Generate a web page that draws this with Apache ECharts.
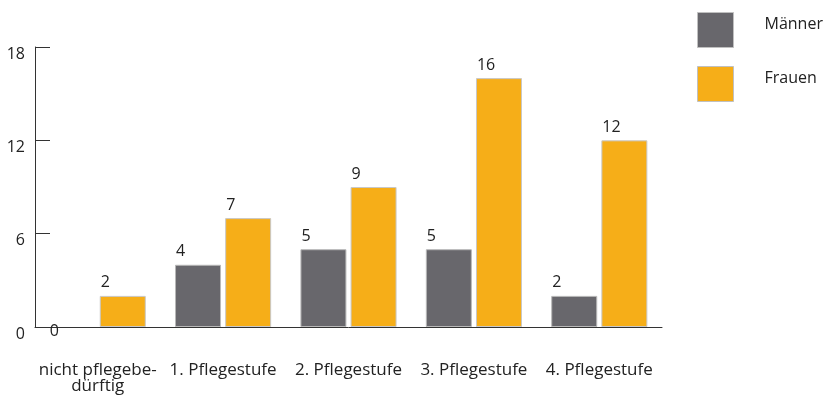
<!DOCTYPE html>
<html>
<head>
<meta charset="utf-8">
<script src="https://cdn.jsdelivr.net/npm/echarts@6/dist/echarts.min.js"></script>
<style>
  html, body { margin: 0; padding: 0; background: #fff; }
  #chart { width: 831px; height: 396px; }
</style>
</head>
<body>
<div id="chart"></div>
<script>
var categories = ['nicht pflegebe-\ndürftig', '1. Pflegestufe', '2. Pflegestufe', '3. Pflegestufe', '4. Pflegestufe'];
var maenner = [0, 4, 5, 5, 2];
var frauen = [2, 7, 9, 16, 12];
var yTicks = [0, 6, 12, 18];

var font = '"Open Sans", "Noto Sans", sans-serif';

function barData(values) {
    // a zero bar: no border, label sits on the axis line like in the original
    return values.map(function (v) {
        if (v === 0) {
            return {value: v, itemStyle: {borderWidth: 0}, label: {position: [0, -4]}};
        }
        return v;
    });
}

var myChart = echarts.init(document.getElementById('chart'));
var option = {
    animation: false,
    textStyle: {fontFamily: font},
    grid: {left: 35, right: 169, top: 47, bottom: 69},
    legend: {
        orient: 'vertical',
        left: 697,
        top: 12,
        padding: 0,
        itemWidth: 36,
        itemHeight: 35,
        itemGap: 18,
        icon: 'rect',
        itemStyle: {borderColor: '#c0c0c0', borderWidth: 1},
        formatter: '{t|{name}}',
        textStyle: {
            fontFamily: font, fontSize: 16, color: '#222', padding: [0, 0, 0, 26],
            rich: {t: {fontFamily: font, fontSize: 16, color: '#222', padding: [0, 0, 12, 0]}}
        },
        data: ['Männer', 'Frauen']
    },
    xAxis: {
        type: 'category',
        data: categories,
        axisLine: {lineStyle: {color: '#333', width: 1}},
        axisTick: {inside: true, length: 6, lineStyle: {color: '#333'}},
        axisLabel: {
            margin: 35,
            fontFamily: font,
            fontSize: 17,
            color: '#222',
            lineHeight: 16,
            interval: 0
        }
    },
    yAxis: {
        type: 'value',
        min: 0,
        max: yTicks[yTicks.length - 1],
        interval: 6,
        axisLine: {show: true, lineStyle: {color: '#333', width: 1}},
        axisTick: {show: true, inside: true, length: 15, lineStyle: {color: '#333'}},
        splitLine: {show: false},
        axisLabel: {margin: 10, fontFamily: font, fontSize: 16, color: '#222', verticalAlign: 'top', lineHeight: 14}
    },
    series: [
        {
            name: 'Männer',
            type: 'bar',
            barWidth: 46,
            barGap: '9%',
            itemStyle: {color: '#68676c', borderColor: '#b8b8b8', borderWidth: 1},
            label: {show: true, position: [1, -21], fontFamily: font, fontSize: 16, color: '#222'},
            data: barData(maenner)
        },
        {
            name: 'Frauen',
            type: 'bar',
            barWidth: 46,
            barGap: '9%',
            itemStyle: {color: '#f6ae18', borderColor: '#c8c8c8', borderWidth: 1},
            label: {show: true, position: [1, -21], fontFamily: font, fontSize: 16, color: '#222'},
            data: barData(frauen)
        }
    ]
};
myChart.setOption(option);
</script>
</body>
</html>
